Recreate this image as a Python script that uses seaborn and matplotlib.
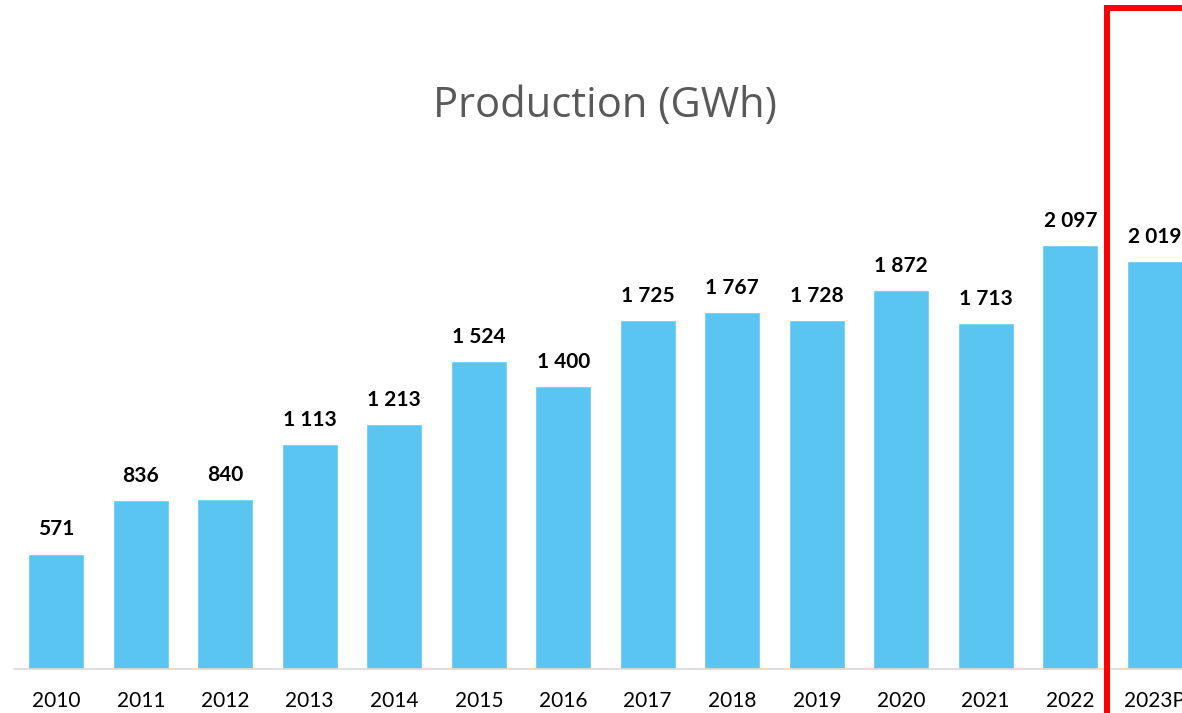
import matplotlib
matplotlib.use("Agg")
import matplotlib.pyplot as plt
import seaborn as sns
import pandas as pd
from matplotlib.patches import Rectangle
from matplotlib.ticker import FixedLocator

years = ["2010", "2011", "2012", "2013", "2014", "2015", "2016",
         "2017", "2018", "2019", "2020", "2021", "2022", "2023P"]
production = [571, 836, 840, 1113, 1213, 1524, 1400,
              1725, 1767, 1728, 1872, 1713, 2097, 2019]
title = "Production (GWh)"

sns.set_style("white")
plt.rcParams['font.family'] = ['Lato', 'DejaVu Sans']

W, H, DPI = 1182, 713, 100
fig = plt.figure(figsize=(W / DPI, H / DPI), dpi=DPI)
fig.patch.set_facecolor("white")

left_px, base_px, pitch = 14, 669, 84.5
ax = fig.add_axes([left_px / W, (H - base_px) / H, (W - left_px) / W, base_px / H])

df = pd.DataFrame({"year": years, "value": production})
sns.barplot(data=df, x="year", y="value", color="#5BC5F2", saturation=1,
            width=0.66, ax=ax)

ax.set_xlim(-0.5, (W - left_px) / pitch - 0.5)
px_per_unit = (669 - 245) / 2097
ax.set_ylim(0, base_px / px_per_unit)

for i, v in enumerate(production):
    lbl = f"{v:,}".replace(",", " ")
    ax.annotate(lbl, xy=(i, v), xytext=(0, 13), textcoords="offset points",
                ha="center", va="baseline", fontsize=15, fontweight="bold",
                color="black")

for s in ["top", "right", "left"]:
    ax.spines[s].set_visible(False)
ax.spines["bottom"].set_color("#D9D9D9")
ax.spines["bottom"].set_linewidth(1.2)
ax.set_yticks([])
ax.set_xlabel("")
ax.set_ylabel("")
ax.xaxis.set_minor_locator(FixedLocator([i - 0.5 for i in range(len(years) + 1)]))
ax.tick_params(axis="x", which="minor", length=5.5, width=1.2, color="#D9D9D9",
               direction="out")
ax.tick_params(axis="x", which="major", length=0, pad=16, labelsize=15,
               labelcolor="black")
ax.set_facecolor("white")

fig.text(605 / W, 1 - 117 / H, title, ha="center", va="baseline",
         fontsize=30, color="#595959", family=["Open Sans", "DejaVu Sans"])

rect = Rectangle((1107 / W, -0.2), 0.3, (H - 8) / H + 0.2,
                 transform=fig.transFigure, fill=False, edgecolor="#FF0000",
                 linewidth=6 * 72 / DPI, clip_on=False)
fig.add_artist(rect)

fig.savefig("out.png", dpi=DPI, facecolor="white")
